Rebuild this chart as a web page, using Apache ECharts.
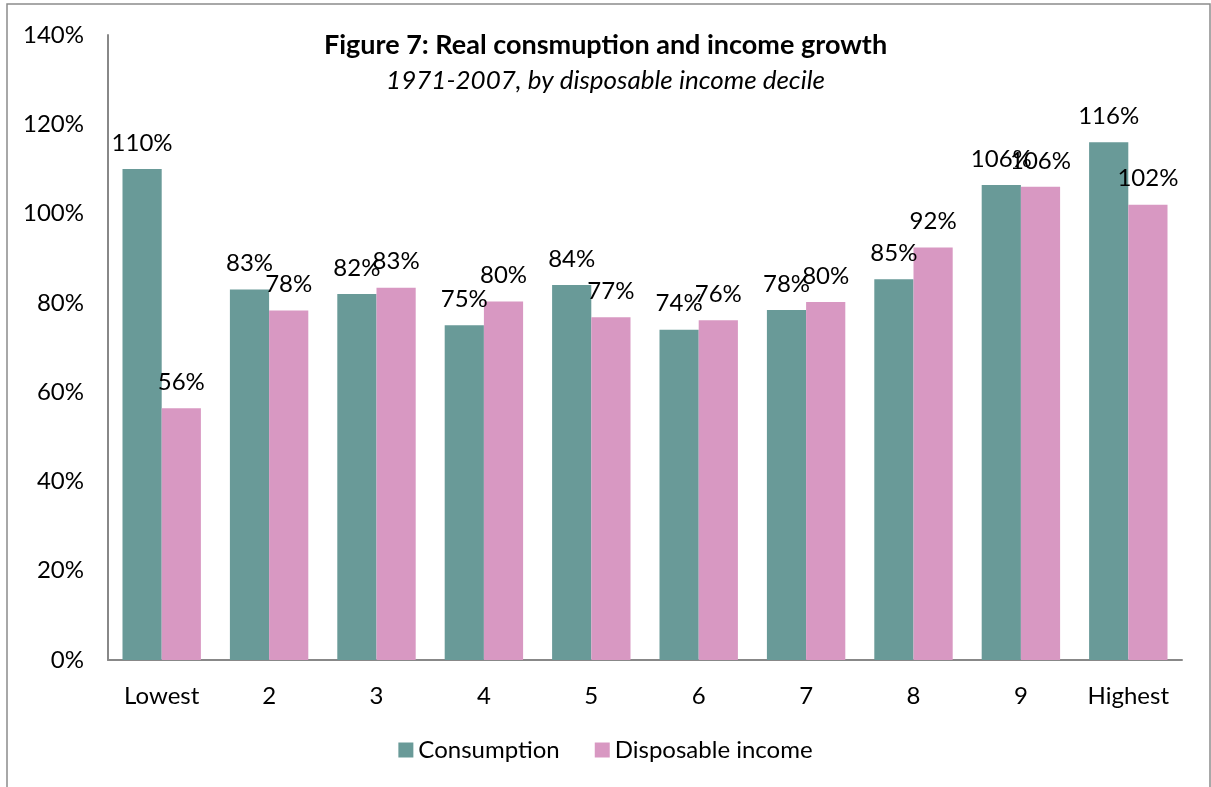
<!DOCTYPE html>
<html>
<head>
<meta charset="utf-8">
<script src="https://cdn.jsdelivr.net/npm/echarts@6/dist/echarts.min.js"></script>
<style>
  html, body { margin: 0; padding: 0; background: #fff; }
  #main { width: 1211px; height: 787px; }
</style>
</head>
<body>
<div id="main"></div>
<script>
var categories = ['Lowest', '2', '3', '4', '5', '6', '7', '8', '9', 'Highest'];
var consumption = [110, 83, 82, 75, 84, 74, 78.4, 85.3, 106.4, 116];
var disposableIncome = [56.4, 78.3, 83.4, 80.3, 76.8, 76.1, 80.2, 92.4, 106, 102];
var yTicks = [0, 20, 40, 60, 80, 100, 120, 140];

var FONT = 'Lato';
var myChart = echarts.init(document.getElementById('main'));

var labelStyle = {
  show: true,
  position: 'top',
  distance: 14,
  fontFamily: FONT,
  fontSize: 24,
  color: '#000',
  formatter: function (p) { return Math.round(p.value) + '%'; }
};

var option = {
  animation: false,
  backgroundColor: '#fff',
  title: {
    text: 'Figure 7: Real consmuption and income growth',
    subtext: '1971-2007, by disposable income decile',
    left: 'center',
    top: 27,
    itemGap: 9,
    textStyle: { fontFamily: FONT, fontSize: 27, fontWeight: 'bold', color: '#000' },
    subtextStyle: { fontFamily: FONT, fontSize: 26, fontStyle: 'italic', color: '#000' }
  },
  legend: {
    data: ['Consumption', 'Disposable income'],
    bottom: 20,
    left: 'center',
    icon: 'rect',
    itemWidth: 15,
    itemHeight: 15,
    itemGap: 35,
    textStyle: { fontFamily: FONT, fontSize: 24, color: '#000' }
  },
  grid: { left: 108, right: 29, top: 35, bottom: 127 },
  xAxis: {
    type: 'category',
    data: categories,
    axisLine: { lineStyle: { color: '#888', width: 2 } },
    axisTick: { show: false },
    axisLabel: { fontFamily: FONT, fontSize: 24, color: '#000', margin: 24 }
  },
  yAxis: {
    type: 'value',
    min: 0,
    max: 140,
    interval: 20,
    axisLine: { show: true, lineStyle: { color: '#888', width: 2 } },
    axisTick: { show: false },
    splitLine: { show: false },
    axisLabel: {
      fontFamily: FONT, fontSize: 24, color: '#000', margin: 24,
      formatter: function (v) { return yTicks.indexOf(v) >= 0 ? v + '%' : ''; }
    }
  },
  graphic: [{
    type: 'rect',
    shape: { x: 7, y: 4, width: 1203, height: 820 },
    style: { fill: 'none', stroke: '#8c8c8c', lineWidth: 1.5 },
    silent: true
  }],
  series: [{
    name: 'Consumption',
    type: 'bar',
    data: consumption,
    barGap: '0%',
    barCategoryGap: '27%',
    itemStyle: { color: '#699a98' },
    label: labelStyle
  }, {
    name: 'Disposable income',
    type: 'bar',
    data: disposableIncome,
    itemStyle: { color: '#d898c2' },
    label: labelStyle
  }]
};
myChart.setOption(option);
</script>
</body>
</html>
